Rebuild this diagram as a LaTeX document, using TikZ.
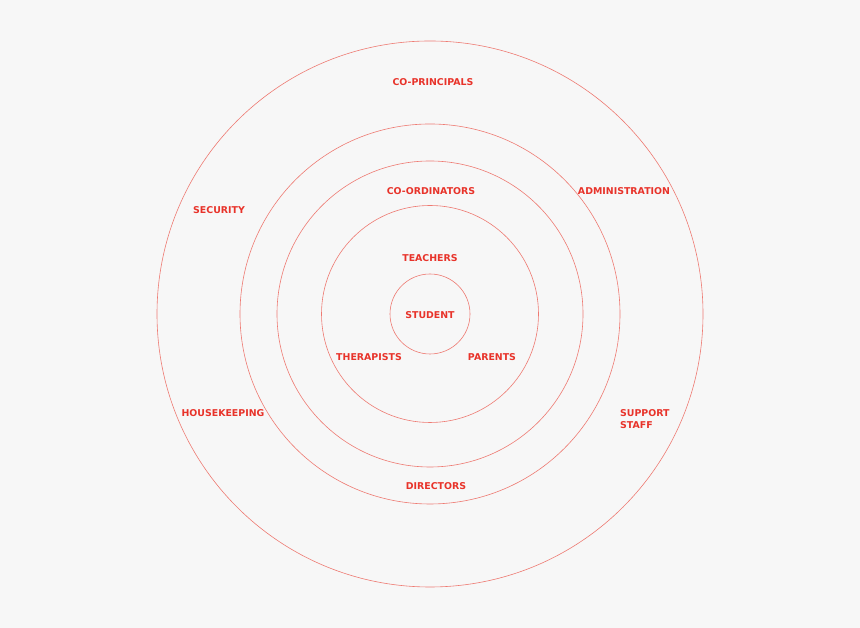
\documentclass[tikz,border=0pt]{standalone}
\usepackage{fontspec}
\setmainfont{DejaVu Sans}
\usetikzlibrary{positioning}
\definecolor{cFondo}{HTML}{F7F7F7}
\definecolor{cAro}{HTML}{EE7A72}
\definecolor{cTxt}{HTML}{E8332A}
\tikzset{
    x=1pt, y=1pt,
    ring/.style={draw=cAro, line width=0.6pt},
    lbl/.style={font=\bfseries\fontsize{9.4}{12}\selectfont, text=cTxt,
                inner sep=1pt},
}

\begin{document}
\begin{tikzpicture}
    \fill[cFondo] (0,0) rectangle (860,628);
    \useasboundingbox (0,0) rectangle (860,628);
    \coordinate (mid) at (430,314);

    \foreach \r in {273,190,153,108.5,40} {
        \draw[ring] (mid) circle (\r);
    }

    \node[lbl] (student) at (430,313) {STUDENT};
    \node[lbl] (teachers) at (430,370) {TEACHERS};
    \node[lbl] (therapists) at (369,271) {THERAPISTS};
    \node[lbl] (parents) at (492,271) {PARENTS};
    \node[lbl] (coord) at (431,437) {CO-ORDINATORS};
    \node[lbl] (directors) at (436,142) {DIRECTORS};
    \node[lbl] (coprin) at (433,546) {CO-PRINCIPALS};
    \node[lbl] (admin) at (624,437) {ADMINISTRATION};
    \node[lbl] (security) at (219,418) {SECURITY};
    \node[lbl] (housekeep) at (223,215) {HOUSEKEEPING};
    \node[lbl, align=left, anchor=north west] (support) at (619,220)
        {SUPPORT\\STAFF};
\end{tikzpicture}
\end{document}
